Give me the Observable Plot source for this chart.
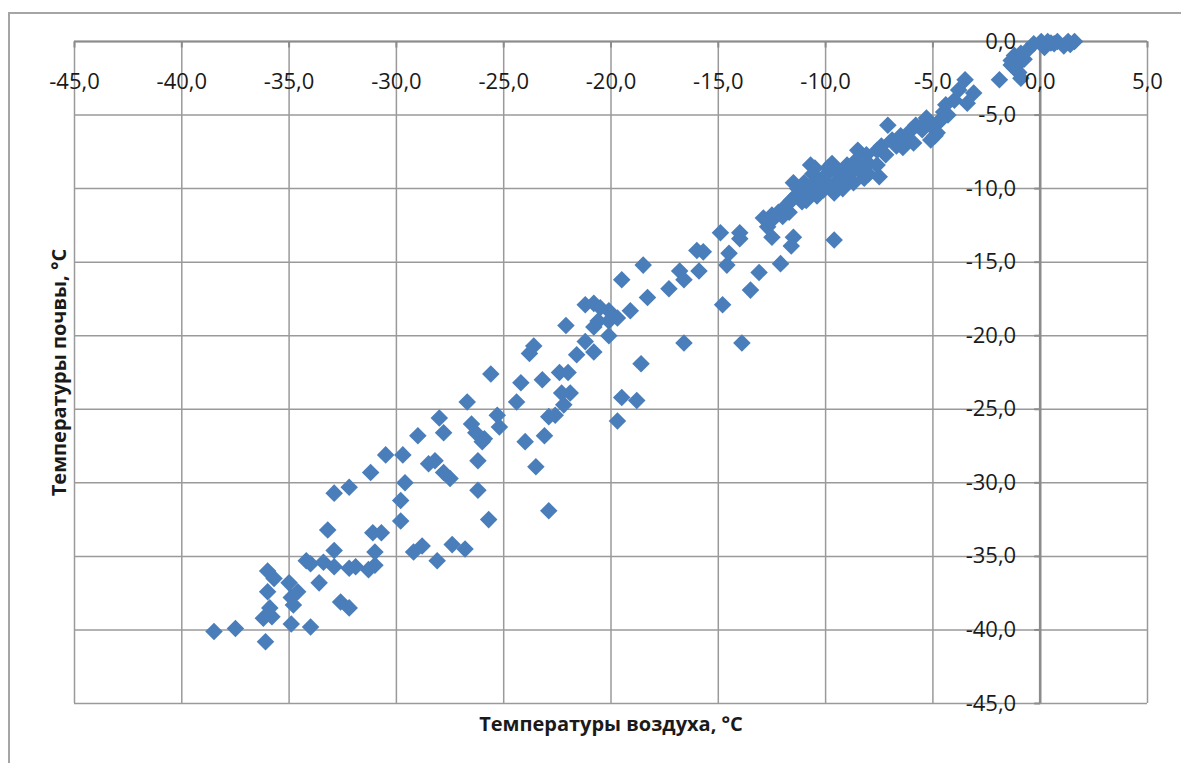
<!DOCTYPE html>
<html>
<head>
<meta charset="utf-8">
<script src="https://cdn.jsdelivr.net/npm/d3@7"></script>
<script src="https://cdn.jsdelivr.net/npm/@observablehq/plot@0.6"></script>
<style>
  html, body { margin: 0; padding: 0; background: #fff; }
  #wrap { position: relative; width: 1181px; height: 763px; overflow: hidden; background: #fff; }
  #border { position: absolute; left: 8px; top: 12px; width: 1300px; height: 900px; border: 2px solid #a5a5a5; box-sizing: border-box; pointer-events: none; }
  #chart { position: absolute; left: 0; top: 0; }
</style>
</head>
<body>
<div id="wrap"><div id="border"></div><div id="chart"></div></div>
<script>
// Air temperature (x) and soil temperature (y), °C
const airTemp = [
  -38.5,-37.5,-36.1,-36.2,-35.8,-35.9,-34.9,-34.0,-36.0,-34.9,-34.8,-35.0,-34.6,-36.0,-35.7,-33.6,-32.6,-32.2,
  -34.2,-34.0,-33.4,-32.9,-32.2,-31.9,-31.3,-31.0,-32.9,-31.0,-33.2,-31.1,-30.7,-29.2,-28.8,-28.1,-27.4,-26.8,
  -32.9,-32.2,-31.2,-30.5,-29.7,-29.6,-29.8,-29.8,-29.0,-28.5,-28.2,-27.8,-27.5,-28.0,-27.8,-26.7,-26.5,-26.3,
  -25.9,-26.0,-26.2,-26.2,-25.7,-25.3,-25.2,-25.6,-24.4,-24.2,-24.0,-23.5,-23.1,-23.2,-23.6,-23.8,-22.9,-22.6,
  -22.9,-22.4,-22.0,-22.3,-21.9,-22.2,-22.1,-21.6,-21.2,-20.8,-21.2,-20.8,-20.5,-20.1,-19.7,-20.6,-20.1,-20.8,
  -20.1,-19.1,-19.5,-19.5,-18.8,-19.7,-18.6,-18.3,-18.5,-17.3,-16.8,-16.6,-15.9,-16.6,-16.0,-15.7,-14.9,-14.8,
  -14.5,-14.6,-14.0,-14.0,-13.9,-13.5,-13.1,-12.1,-12.7,-12.5,-11.5,-11.6,-9.6,-7.1,-3.5,-3.1,-3.4,-4.0,-3.8,-1.9,
  -12.9,-12.5,-12.4,-12.2,-11.8,-11.6,-11.4,-11.1,-10.9,-10.7,-10.6,-10.4,-10.2,-10.1,-10.0,-9.8,-9.6,-9.5,-9.4,
  -9.2,-9.0,-8.9,-8.7,-8.6,-8.4,-8.2,-8.1,-8.0,-7.5,-7.6,-7.6,-7.4,-7.2,-6.9,-6.7,-6.5,-6.2,-6.0,-5.8,-5.5,-5.3,
  -5.1,-4.9,-4.7,-4.5,-4.4,-5.1,-11.0,-9.7,-8.5,-10.7,-11.5,-11.1,-9.3,-5.9,-6.4,-8.0,-5.3,-4.8,-4.6,-4.3,
  -12.0,-11.7,-11.3,-10.8,-10.5,-10.5,-9.9,-9.1,-8.8,
  -1.35,-1.2,-1.0,-0.9,-1.2,-0.9,-0.6,-0.3,0.05,0.35,0.8,1.3,1.6,1.1,0.65,0.2,-0.75,-1.0,-1.35,1.4,0.5
];
const soilTemp = [
  -40.1,-39.9,-40.8,-39.2,-39.1,-38.5,-39.6,-39.8,-37.4,-37.8,-38.3,-36.8,-37.4,-36.0,-36.5,-36.8,-38.1,-38.5,
  -35.3,-35.5,-35.4,-35.7,-35.8,-35.7,-35.9,-35.6,-34.6,-34.7,-33.2,-33.4,-33.4,-34.7,-34.3,-35.3,-34.2,-34.5,
  -30.7,-30.3,-29.3,-28.1,-28.1,-30.0,-31.2,-32.6,-26.8,-28.7,-28.5,-29.3,-29.7,-25.6,-26.6,-24.5,-26.0,-26.6,
  -27.0,-27.2,-28.5,-30.5,-32.5,-25.4,-26.2,-22.6,-24.5,-23.2,-27.2,-28.9,-26.8,-23.0,-20.7,-21.2,-25.5,-25.4,
  -31.9,-22.5,-22.5,-23.9,-23.9,-24.7,-19.3,-21.3,-20.4,-21.1,-17.9,-17.8,-18.1,-18.3,-18.8,-19.0,-19.0,-19.4,
  -20.0,-18.3,-16.2,-24.2,-24.4,-25.8,-21.9,-17.4,-15.2,-16.8,-15.6,-16.2,-15.6,-20.5,-14.2,-14.3,-13.0,-17.9,
  -14.4,-15.2,-13.0,-13.4,-20.5,-16.9,-15.7,-15.1,-12.6,-13.3,-13.3,-13.9,-13.5,-5.7,-2.6,-3.5,-4.2,-4.0,-3.3,-2.6,
  -12.0,-11.8,-12.0,-11.6,-11.1,-10.8,-10.5,-10.3,-10.8,-9.8,-9.0,-10.5,-9.4,-10.1,-9.1,-9.9,-10.3,-8.8,-9.4,
  -10.0,-8.4,-9.1,-9.6,-8.1,-8.8,-9.3,-7.7,-8.3,-9.2,-8.4,-7.4,-7.1,-7.7,-6.7,-7.1,-6.4,-6.7,-6.0,-5.7,-6.0,-5.2,
  -5.7,-6.4,-5.4,-4.8,-4.3,-6.7,-9.6,-8.3,-7.4,-8.4,-9.6,-10.9,-9.7,-6.9,-7.2,-9.0,-5.4,-6.2,-5.3,-5.0,
  -11.9,-11.6,-10.0,-10.2,-9.6,-8.6,-8.6,-9.0,-8.6,
  -1.3,-1.8,-2.1,-2.5,-0.95,-0.8,-0.6,-0.15,0,0,0,0,0,-0.3,-0.15,-0.4,-1.2,-1.5,-1.6,-0.2,-0.1
];
const xTicks = [-45,-40,-35,-30,-25,-20,-15,-10,-5,0,5];
const yTicks = [0,-5,-10,-15,-20,-25,-30,-35,-40,-45];
const xTitle = "Температуры воздуха, °С";
const yTitle = "Температуры почвы, °С";
const axisCross = 0;

const points = airTemp.map((a, i) => ({air: a, soil: soilTemp[i]}));
const fmt = d => d.toFixed(1).replace(".", ",");
const font = "Open Sans";

const tickDown = {draw(ctx) { ctx.moveTo(0, 0); ctx.lineTo(0, 6); }};
const tickLeft = {draw(ctx) { ctx.moveTo(0, 0); ctx.lineTo(-6, 0); }};

const chart = Plot.plot({
  width: 1181,
  height: 763,
  marginLeft: 74,
  marginRight: 34,
  marginTop: 41,
  marginBottom: 60,
  style: {fontFamily: font, background: "transparent", overflow: "visible"},
  x: {domain: [-45, 5], axis: null},
  y: {domain: [-45, 0], axis: null},
  marks: [
    Plot.ruleX(xTicks, {x: d => d, y1: yTicks[yTicks.length - 1], y2: yTicks[0], stroke: "#9a9a9a", strokeWidth: 1.5}),
    Plot.ruleY(yTicks, {y: d => d, x1: xTicks[0], x2: xTicks[xTicks.length - 1], stroke: "#9a9a9a", strokeWidth: 1.5}),
    Plot.ruleY([axisCross], {y: d => d, x1: xTicks[0], x2: xTicks[xTicks.length - 1], stroke: "#8c8c8c", strokeWidth: 2.2}),
    Plot.ruleX([axisCross], {x: d => d, y1: yTicks[yTicks.length - 1], y2: yTicks[0], stroke: "#8c8c8c", strokeWidth: 2.6}),
    Plot.dot(xTicks, {x: d => d, y: axisCross, symbol: tickDown, stroke: "#8c8c8c", strokeWidth: 2, fill: "none"}),
    Plot.dot(yTicks, {x: axisCross, y: d => d, symbol: tickLeft, stroke: "#8c8c8c", strokeWidth: 2, fill: "none"}),
    Plot.dot(points, {x: "air", y: "soil", symbol: "diamond2", r: 7.9, fill: "#4a7ebb", stroke: "none"}),
    Plot.text(xTicks, {x: d => d, y: axisCross, text: fmt, dy: 40, fontSize: 22, fill: "#1a1a1a", fontFamily: font}),
    Plot.text(yTicks, {x: axisCross, y: d => d, text: fmt, dx: -24, textAnchor: "end", fontSize: 22, fill: "#1a1a1a", fontFamily: font}),
    Plot.text([xTitle], {frameAnchor: "bottom", text: d => d, dy: 21, lineAnchor: "middle", textAnchor: "middle", fontSize: 20, fontWeight: "bold", fill: "#1a1a1a", fontFamily: font}),
    Plot.text([yTitle], {frameAnchor: "left", text: d => d, dx: -15, rotate: -90, lineAnchor: "middle", textAnchor: "middle", fontSize: 20, fontWeight: "bold", fill: "#1a1a1a", fontFamily: font})
  ]
});
document.getElementById("chart").appendChild(chart);
</script>
</body>
</html>
